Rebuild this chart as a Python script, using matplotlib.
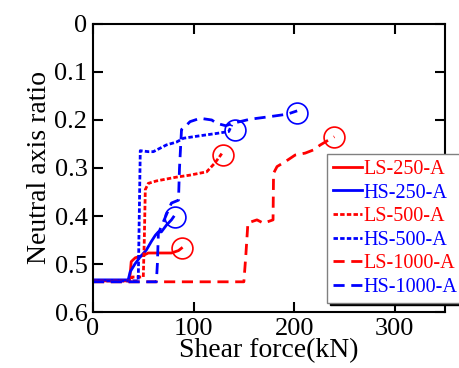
import matplotlib
matplotlib.use('Agg')
import matplotlib.pyplot as plt

plt.rcParams['font.family'] = ['Liberation Serif', 'DejaVu Serif']

# series (x = shear force kN, y = neutral axis ratio)
ls250_x = [0, 36, 37, 38, 42, 50, 55, 78, 85, 88]
ls250_y = [0.535, 0.535, 0.52, 0.495, 0.487, 0.482, 0.477, 0.477, 0.472, 0.467]

hs250_x = [0, 35, 37, 42, 47, 53, 58, 62, 65, 68, 73, 78, 80]
hs250_y = [0.533, 0.533, 0.516, 0.499, 0.485, 0.471, 0.453, 0.44, 0.433, 0.433, 0.419, 0.408, 0.402]

ls500_x = [0, 38, 39, 50, 51, 52, 55, 63, 83, 96, 113, 121, 126, 128]
ls500_y = [0.535, 0.535, 0.527, 0.527, 0.45, 0.345, 0.332, 0.327, 0.319, 0.315, 0.308, 0.29, 0.276, 0.27]

hs500_x = [0, 45, 46, 47, 55, 60, 73, 83, 90, 106, 123, 135, 138]
hs500_y = [0.535, 0.535, 0.4, 0.264, 0.266, 0.266, 0.252, 0.246, 0.238, 0.233, 0.228, 0.224, 0.21]

ls1000_x = [0, 150, 152, 154, 156, 163, 169.5, 179, 179.5, 183, 191, 201, 211, 219, 226, 234, 240]
ls1000_y = [0.537, 0.537, 0.48, 0.415, 0.413, 0.408, 0.415, 0.408, 0.311, 0.297, 0.287, 0.273, 0.269, 0.2625, 0.252, 0.242, 0.235]

hs1000_x = [0, 63, 64, 65, 78, 85, 86, 88, 91.5, 96.5, 106.5, 118, 123, 132, 139, 156, 176, 193, 203]
hs1000_y = [0.537, 0.537, 0.5, 0.436, 0.373, 0.367, 0.3, 0.22, 0.214, 0.2035, 0.1965, 0.2, 0.207, 0.212, 0.207, 0.1985, 0.193, 0.188, 0.181]

# circled end points
circle_x = [88, 82, 129, 141, 240, 203]
circle_y = [0.467, 0.402, 0.272, 0.221, 0.236, 0.186]
circle_c = ['red', 'blue', 'red', 'blue', 'red', 'blue']

labels = ['LS-250-A', 'HS-250-A', 'LS-500-A', 'HS-500-A', 'LS-1000-A', 'HS-1000-A']

fig = plt.figure(figsize=(4.59, 3.68), dpi=100)
ax = fig.add_axes([0.2026, 0.152, 0.767, 0.783])

lw = 2
short = (1.6, 0.8)
long_ = (4, 2.4)
ax.plot(ls250_x, ls250_y, color='red', lw=lw, label=labels[0])
ax.plot(hs250_x, hs250_y, color='blue', lw=lw, label=labels[1])
ax.plot(ls500_x, ls500_y, color='red', lw=lw, dashes=short, label=labels[2])
ax.plot(hs500_x, hs500_y, color='blue', lw=lw, dashes=short, label=labels[3])
ax.plot(ls1000_x, ls1000_y, color='red', lw=lw, dashes=long_, label=labels[4])
ax.plot(hs1000_x, hs1000_y, color='blue', lw=lw, dashes=long_, label=labels[5])

for cx, cy, cc in zip(circle_x, circle_y, circle_c):
    ax.plot(cx, cy, 'o', ms=15, mfc='none', mec=cc, mew=1.2)

ax.set_xlim(0, 350)
ax.set_ylim(0.6, 0)
ax.set_xticks([0, 100, 200, 300])
ax.set_yticks([0, 0.1, 0.2, 0.3, 0.4, 0.5, 0.6])
ax.set_yticklabels(['0', '0.1', '0.2', '0.3', '0.4', '0.5', '0.6'])
ax.tick_params(direction='in', length=7.5, width=1.5, labelsize=19,
               top=True, right=True, pad=4)
for s in ax.spines.values():
    s.set_linewidth(1.5)

ax.set_xlabel('Shear force(kN)', fontsize=20, labelpad=-1)
ax.set_ylabel('Neutral axis ratio', fontsize=20, labelpad=2)

leg = ax.legend(loc='upper left', bbox_to_anchor=(0.665, 0.549), fontsize=14.5,
                labelcolor='linecolor', handlelength=1.45, handletextpad=0.05,
                labelspacing=0.22, borderpad=0.3, borderaxespad=0, fancybox=False,
                edgecolor='gray', shadow={'color': 'black', 'alpha': 1},
                framealpha=1)
leg.get_frame().set_linewidth(1)

fig.savefig('out.png', dpi=100)
